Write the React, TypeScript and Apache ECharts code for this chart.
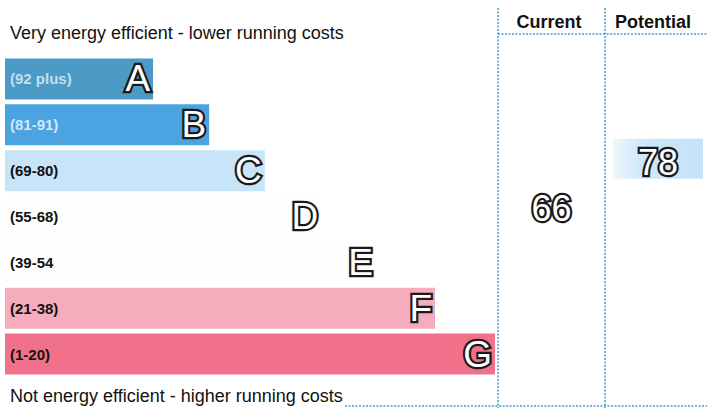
import React, { useEffect, useRef } from "react";
import * as echarts from "echarts";

const bands = ["A", "B", "C", "D", "E", "F", "G"];
const rangeLabels = ["(92 plus)", "(81-91)", "(69-80)", "(55-68)", "(39-54", "(21-38)", "(1-20)"];
const bandMin = [92, 81, 69, 55, 39, 21, 1];
const barLengths = [30.1, 41.5, 52.8, 64.3, 75.4, 87.4, 99.6];
const barColors = ["#4b9bc6", "#4ba3e2", "#c8e4f8", "#fefefe", "#fefefe", "#f5acbc", "#f07189"];
const rangeLabelColors = ["rgba(235,245,255,0.75)", "rgba(235,245,255,0.85)", "#111", "#111", "#111", "#111", "#111"];
const currentScore = 66;
const potentialScore = 78;
const topText = "Very energy efficient - lower running costs";
const bottomText = "Not energy efficient - higher running costs";
const headers = ["Current", "Potential"];

const bandOf = (s: number) => bandMin.findIndex((m) => s >= m);

const letterLabel = {
  color: "#ffffff",
  textBorderColor: "#1a1a1a",
  textBorderWidth: 4.5,
  fontFamily: "Liberation Sans, Arial, sans-serif",
  fontSize: 37,
};

export default function App() {
  const ref = useRef<HTMLDivElement>(null);
  useEffect(() => {
    if (!ref.current) return;
    const chart = echarts.init(ref.current, undefined, { renderer: "svg" });
    const dot = { stroke: "#3d9dd0", lineWidth: 1.5, lineDash: [2, 1.5] };
    const curIdx = bandOf(currentScore);
    const potIdx = bandOf(potentialScore);
    chart.setOption({
      animation: false,
      backgroundColor: "#ffffff",
      grid: [
        { left: 5, top: 56, width: 492, height: 321 },
        { left: 498, top: 48, width: 107, height: 321 },
        { left: 613, top: 44, width: 90, height: 321 },
      ],
      xAxis: [0, 1, 2].map((i) => ({
        type: "value",
        gridIndex: i,
        min: 0,
        max: i === 0 ? 100 : 1,
        show: false,
      })),
      yAxis: [0, 1, 2].map((i) => ({
        type: "category",
        gridIndex: i,
        data: bands,
        inverse: true,
        show: false,
      })),
      graphic: [
        { type: "line", shape: { x1: 498, y1: 8, x2: 498, y2: 408 }, style: dot, silent: true },
        { type: "line", shape: { x1: 605, y1: 8, x2: 605, y2: 408 }, style: dot, silent: true },
        { type: "line", shape: { x1: 498, y1: 34, x2: 707, y2: 34 }, style: dot, silent: true },
        { type: "line", shape: { x1: 345, y1: 406, x2: 707, y2: 406 }, style: dot, silent: true },
        {
          type: "text", left: 10, top: 24,
          style: { text: topText, fill: "#111", font: "18px 'Liberation Sans', Arial, sans-serif" },
        },
        {
          type: "text", left: 10, top: 387,
          style: { text: bottomText, fill: "#111", font: "18px 'Liberation Sans', Arial, sans-serif" },
        },
        {
          type: "text", x: 549, y: 22,
          style: { text: headers[0], fill: "#111", align: "center", verticalAlign: "middle", font: "bold 18px 'Liberation Sans', Arial, sans-serif" },
        },
        {
          type: "text", x: 653, y: 22,
          style: { text: headers[1], fill: "#111", align: "center", verticalAlign: "middle", font: "bold 18px 'Liberation Sans', Arial, sans-serif" },
        },
      ],
      series: [
        {
          type: "bar",
          xAxisIndex: 0,
          yAxisIndex: 0,
          barWidth: 41,
          barGap: "-100%",
          silent: true,
          data: barLengths.map((v, i) => ({
            value: v,
            itemStyle: { color: barColors[i] },
            label: {
              show: true,
              position: "insideLeft",
              distance: 5,
              formatter: rangeLabels[i],
              color: rangeLabelColors[i],
              fontWeight: "bold",
              fontSize: 15,
              fontFamily: "Liberation Sans, Arial, sans-serif",
            },
          })),
        },
        {
          type: "bar",
          xAxisIndex: 0,
          yAxisIndex: 0,
          barWidth: 41,
          barGap: "-100%",
          silent: true,
          itemStyle: { color: "rgba(0,0,0,0)" },
          label: {
            show: true,
            position: "insideRight",
            distance: 3,
            formatter: (p: any) => bands[p.dataIndex],
            ...letterLabel,
          },
          data: barLengths,
        },
        {
          type: "bar",
          xAxisIndex: 1,
          yAxisIndex: 1,
          barWidth: 40,
          silent: true,
          itemStyle: { color: "rgba(0,0,0,0)" },
          label: {
            show: true,
            position: "inside",
            formatter: String(currentScore),
            ...letterLabel,
            fontSize: 36,
          },
          data: bands.map((_, i) => (i === curIdx ? 1 : "-")),
        },
        {
          type: "bar",
          xAxisIndex: 2,
          yAxisIndex: 2,
          barWidth: 40,
          silent: true,
          itemStyle: {
            color: new echarts.graphic.LinearGradient(0, 0, 1, 0, [
              { offset: 0, color: "rgba(200,228,248,0.3)" },
              { offset: 0.3, color: "rgba(200,228,248,0.85)" },
              { offset: 1, color: "rgba(196,226,247,1)" },
            ]),
          },
          label: {
            show: true,
            position: "inside",
            offset: [0, 4],
            formatter: String(potentialScore),
            ...letterLabel,
            fontSize: 36,
          },
          data: bands.map((_, i) => (i === potIdx ? 1 : "-")),
        },
      ],
    });
    return () => chart.dispose();
  }, []);
  return (
    <div
      ref={ref}
      style={{ position: "absolute", left: 0, top: 0, width: 707, height: 408 }}
    />
  );
}
